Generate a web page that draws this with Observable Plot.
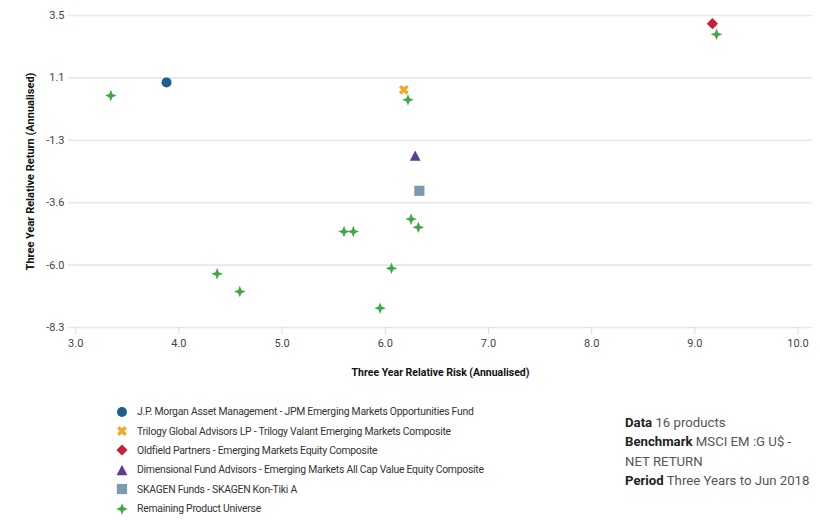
<!DOCTYPE html>
<html><head><meta charset="utf-8">
<script src="https://cdn.jsdelivr.net/npm/d3@7"></script>
<script src="https://cdn.jsdelivr.net/npm/@observablehq/plot@0.6"></script>
<style>
body{margin:0;background:#fff;font-family:Roboto,"Open Sans",sans-serif;}
#wrap{position:relative;width:820px;height:520px;overflow:hidden;}
#legend{position:absolute;left:114px;top:402px;font-size:10.4px;letter-spacing:-0.25px;color:#333;}
.row{height:19.4px;display:flex;align-items:center;white-space:nowrap;}
.row svg{width:16px;height:14px;margin-right:7px;}
#info{position:absolute;left:625px;top:413px;font-size:13.2px;color:#555;line-height:19.4px;white-space:nowrap;}
#info b{color:#222;font-weight:700;}
</style></head><body>
<div id="wrap"><div id="chart"></div><div id="legend"></div>
<div id="info"><b>Data</b> 16 products<br><b>Benchmark</b> MSCI EM :G U$ -<br>NET RETURN<br><b>Period</b> Three Years to Jun 2018</div>
</div>
<script>
// ---- data ----
const products = [
  "J.P. Morgan Asset Management - JPM Emerging Markets Opportunities Fund",
  "Trilogy Global Advisors LP - Trilogy Valant Emerging Markets Composite",
  "Oldfield Partners - Emerging Markets Equity Composite",
  "Dimensional Fund Advisors - Emerging Markets All Cap Value Equity Composite",
  "SKAGEN Funds - SKAGEN Kon-Tiki A"
];
const universeName = "Remaining Product Universe";
const productRisk = [3.88, 6.18, 9.17, 6.29, 6.33];
const productReturn = [0.93, 0.65, 3.15, -1.84, -3.17];
const universeRisk = [3.34, 6.22, 9.21, 6.25, 6.32, 5.60, 5.69, 6.06, 5.95, 4.37, 4.59];
const universeReturn = [0.43, 0.27, 2.75, -4.24, -4.55, -4.71, -4.71, -6.10, -7.61, -6.31, -6.98];
const xTicks = [3, 4, 5, 6, 7, 8, 9, 10];
const yTicks = [-8.34, -5.98, -3.62, -1.26, 1.10, 3.46];
const xTitle = "Three Year Relative Risk (Annualised)";
const yTitle = "Three Year Relative Return (Annualised)";

// ---- styles ----
const colors = ["#1d5f8d", "#f2a82b", "#c71f37", "#5d3b98", "#7c9aad", "#3fa845"];

function poly(ctx, pts){ ctx.moveTo(pts[0][0], pts[0][1]); for (let i=1;i<pts.length;i++) ctx.lineTo(pts[i][0], pts[i][1]); ctx.closePath(); }
const rOf = size => Math.sqrt(size / Math.PI);
const symCircle = {draw(ctx, size){ const r = rOf(size); ctx.moveTo(r,0); ctx.arc(0,0,r,0,2*Math.PI); }};
const symTimes = {draw(ctx, size){ const r = rOf(size), w = r*0.33, c = Math.SQRT1_2;
  const p = [[-w,-r],[w,-r],[w,-w],[r,-w],[r,w],[w,w],[w,r],[-w,r],[-w,w],[-r,w],[-r,-w],[-w,-w]];
  poly(ctx, p.map(([x,y]) => [(x-y)*c, (x+y)*c])); }};
const symDiamond = {draw(ctx, size){ const r = rOf(size); poly(ctx, [[0,-r],[r,0],[0,r],[-r,0]]); }};
const symTriangle = {draw(ctx, size){ const r = rOf(size); poly(ctx, [[0,-r*0.95],[r,r*0.95],[-r,r*0.95]]); }};
const symSquare = {draw(ctx, size){ const r = rOf(size); poly(ctx, [[-r,-r],[r,-r],[r,r],[-r,r]]); }};
const symStar = {draw(ctx, size){ const r = rOf(size), ri = r*0.4, p = [];
  for (let k=0;k<8;k++){ const a = k*Math.PI/4 - Math.PI/2, rr = k%2 ? ri : r; p.push([rr*Math.cos(a), rr*Math.sin(a)]); }
  poly(ctx, p); }};
const symbols = [symCircle, symTimes, symDiamond, symTriangle, symSquare, symStar];
const radii = [5, 5.2, 5.6, 5.4, 5.1, 5.8];

const named = products.map((name, i) => ({name, i, risk: productRisk[i], ret: productReturn[i]}));
const universe = universeRisk.map((risk, i) => ({risk, ret: universeReturn[i]}));

const chart = Plot.plot({
  width: 820, height: 390,
  marginLeft: 68, marginRight: 8, marginTop: 15, marginBottom: 63,
  style: {fontFamily: "Roboto, sans-serif", fontSize: "11px", color: "#444", background: "#fff"},
  x: {domain: [2.93, 10.14]},
  y: {domain: [-8.34, 3.46]},
  marks: [
    Plot.ruleY(yTicks, {stroke: "#e7e7e7", strokeWidth: 1.6}),
    Plot.axisY({ticks: yTicks, tickSize: 0, tickPadding: 4, tickFormat: d => d.toFixed(1), label: null}),
    Plot.axisX({ticks: xTicks, tickSize: 7, tickPadding: 5, stroke: "#ddd", tickFormat: d => d.toFixed(1), label: null}),
    Plot.text([xTitle], {frameAnchor: "bottom", dy: 48, fontWeight: "bold", fontSize: 10.5, fill: "#111"}),
    Plot.text([yTitle], {frameAnchor: "left", textAnchor: "middle", dx: -38, rotate: -90, fontWeight: "bold", fontSize: 11, fill: "#111"}),
    Plot.dot(universe, {x: "risk", y: "ret", symbol: symStar, r: radii[5], fill: colors[5], stroke: "none"}),
    ...named.map(d => Plot.dot([d], {x: "risk", y: "ret", symbol: symbols[d.i], r: radii[d.i], fill: colors[d.i], stroke: "none"}))
  ]
});
document.getElementById("chart").append(chart);

// ---- legend ----
const legend = d3.select("#legend");
[...products, universeName].forEach((name, i) => {
  const row = legend.append("div").attr("class", "row");
  const svg = row.append("svg").attr("viewBox", "-8 -7 16 14");
  svg.append("path").attr("d", d3.symbol(symbols[i], Math.PI * radii[i] * radii[i])()).attr("fill", colors[i]);
  row.append("span").text(name);
});
</script>
</body></html>
